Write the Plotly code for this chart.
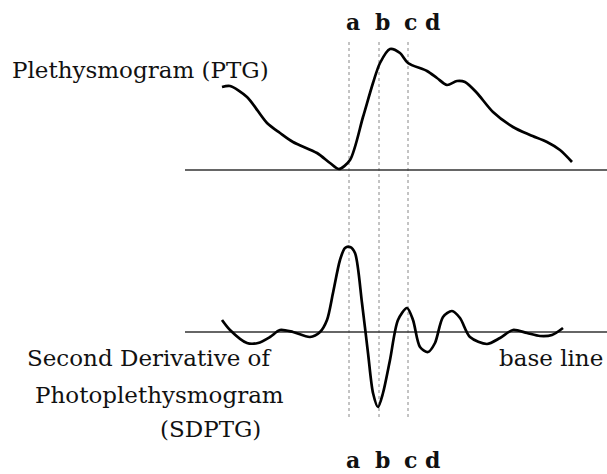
import plotly.graph_objects as go

# pulse wave (x: time in px, y: screen px, down is larger)
ptg_x = [222, 230, 247, 267, 280, 293, 317, 330, 339, 350, 363, 373, 380, 390,
         400, 408, 427, 437, 447, 457, 465, 477, 493, 513, 530, 547, 560, 572]
ptg_y = [87, 86, 97, 123, 133, 142, 153, 163, 169, 160, 117, 83, 63, 49,
         53, 63, 71, 78, 85, 81, 82, 93, 112, 127, 135, 142, 150, 162]

sdptg_x = [222, 230, 247, 258, 270, 280, 293, 310, 320, 327, 333, 340, 345, 350,
           355, 362, 368, 373, 378, 383, 390, 398, 407, 413, 420, 428, 435, 443,
           452, 460, 470, 487, 500, 513, 527, 540, 552, 563]
sdptg_y = [320, 330, 343, 343, 337, 330, 332, 337, 332, 320, 293, 260, 248, 247,
           253, 303, 353, 393, 407, 393, 360, 320, 308, 320, 347, 352, 343, 317,
           311, 318, 337, 344, 338, 330, 333, 336, 335, 328]

ptg_base = 170
sdptg_base = 332
base_x = [185, 607]

wave_x = [349, 379, 408]          # a, b, c markers
labels = ["a", "b", "c", "d"]
label_x = [353, 382, 410, 432]

fig = go.Figure()

# dotted guides through a, b, c
for xv in wave_x:
    fig.add_trace(go.Scatter(x=[xv, xv], y=[42, 418], mode="lines",
                             line=dict(color="#888888", width=1, dash="dot"),
                             hoverinfo="skip"))

# base lines
for yb in [ptg_base, sdptg_base]:
    fig.add_trace(go.Scatter(x=base_x, y=[yb, yb], mode="lines",
                             line=dict(color="#333333", width=1.5),
                             hoverinfo="skip"))

fig.add_trace(go.Scatter(x=ptg_x, y=ptg_y, mode="lines",
                         line=dict(color="black", width=2.7, shape="spline", smoothing=0.8)))
fig.add_trace(go.Scatter(x=sdptg_x, y=sdptg_y, mode="lines",
                         line=dict(color="black", width=2.7, shape="spline", smoothing=0.8)))

serif = "DejaVu Serif, Liberation Serif, serif"

for lx, lt in zip(label_x, labels):
    for ly in [22, 460]:
        fig.add_annotation(x=lx, y=ly, text="<b>%s</b>" % lt, showarrow=False,
                           font=dict(family=serif, size=22, color="#111111"))

texts = [
    (10, 70, "Plethysmogram (PTG)", "left"),
    (25, 358, "Second Derivative of", "left"),
    (33, 395, "Photoplethysmogram", "left"),
    (158, 429, "(SDPTG)", "left"),
    (605, 358, "base line", "right"),
]
for tx, ty, tt, anc in texts:
    fig.add_annotation(x=tx, y=ty, text=tt, showarrow=False, xanchor=anc,
                       font=dict(family=serif, size=23, color="#111111"))

fig.update_layout(width=607, height=474, showlegend=False,
                  margin=dict(l=0, r=0, t=0, b=0),
                  plot_bgcolor="white", paper_bgcolor="white")
fig.update_xaxes(range=[0, 607], visible=False)
fig.update_yaxes(range=[474, 0], visible=False)

# drop the default page margin so the figure fills the window
fig.write_html("out.html", config={"displayModeBar": False},
               post_script="document.body.style.margin='0';document.body.style.overflow='hidden';")
